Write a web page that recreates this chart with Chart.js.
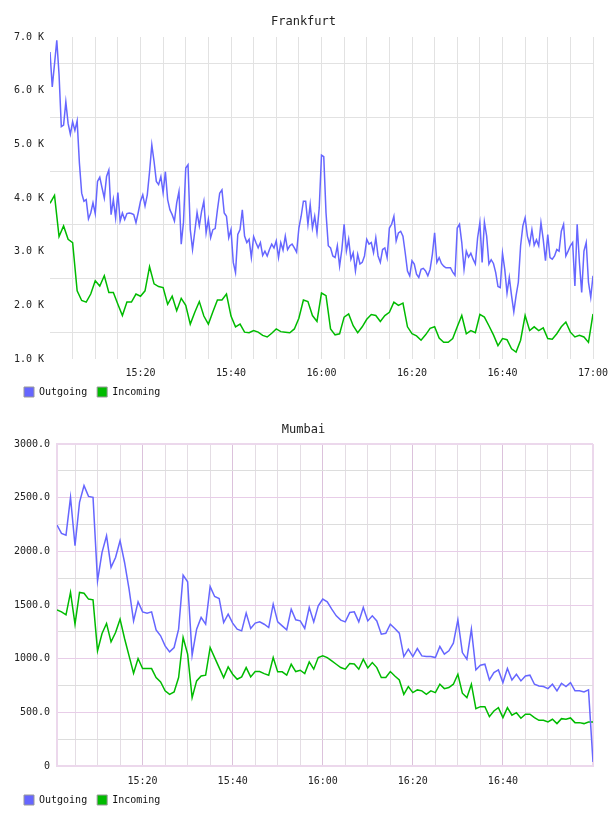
<!DOCTYPE html>
<html>
<head>
<meta charset="utf-8">
<script src="https://cdn.jsdelivr.net/npm/chart.js@4.4.0/dist/chart.umd.min.js"></script>
<style>
  body { margin: 0; background: #fff; }
  .box { position: relative; width: 608px; height: 408px; }
</style>
</head>
<body>
<div class="box"><canvas id="frankfurt"></canvas></div>
<div class="box"><canvas id="mumbai"></canvas></div>
<script>
// times are minutes after 15:00

// Frankfurt outgoing: one sample every 30 s from 15:00
const ffOutgoing = [
  6720, 6070, 6500, 6940, 6300, 5330, 5360, 5790, 5390, 5190,
  5420, 5260, 5440, 4650, 4090, 3940, 3970, 3610, 3720, 3910,
  3710, 4310, 4390, 4190, 4000, 4400, 4520, 3690, 3970, 3630,
  4100, 3570, 3720, 3600, 3710, 3720, 3710, 3690, 3540, 3730,
  3940, 4060, 3850, 4060, 4490, 4990, 4680, 4310, 4250, 4400,
  4100, 4490, 3970, 3780, 3690, 3570, 3910, 4120, 3140, 3550,
  4560, 4620, 3410, 3040, 3380, 3730, 3480, 3750, 3940, 3350,
  3600, 3260, 3410, 3430, 3780, 4090, 4150, 3720, 3660, 3260,
  3410, 2800, 2610, 3320, 3410, 3780, 3290, 3170, 3230, 2890,
  3280, 3170, 3070, 3170, 2930, 3010, 2920, 3040, 3140, 3070,
  3200, 2890, 3170, 3030, 3290, 3040, 3110, 3140, 3070, 2990,
  3440, 3660, 3940, 3940, 3510, 3880, 3440, 3660, 3350, 3820,
  4800, 4770, 3720, 3110, 3070, 2920, 2890, 3110, 2730, 3040,
  3510, 3010, 3230, 2860, 2980, 2640, 2950, 2770, 2800, 2920,
  3230, 3140, 3170, 2980, 3260, 2920, 2800, 3040, 3070, 2890,
  3440, 3510, 3660, 3200, 3350, 3380, 3290, 2980, 2640, 2550,
  2830, 2770, 2580, 2520, 2670, 2690, 2640, 2550, 2670, 2950,
  3350, 2800, 2890, 2780, 2730, 2700, 2700, 2700, 2620, 2560,
  3440, 3510, 3170, 2670, 3010, 2900, 2970, 2860, 2770, 3260,
  3540, 2800, 3550, 3290, 2770, 2850, 2780, 2610, 2350, 2330,
  2970, 2670, 2230, 2520, 2180, 1880, 2180, 2430, 3110, 3480,
  3630, 3290, 3140, 3410, 3120, 3220, 3110, 3540, 3230, 2830,
  3320, 2890, 2860, 2920, 3040, 3010, 3380, 3510, 2920, 3010,
  3110, 3170, 2360, 3510, 2800, 2240, 3010, 3170, 2430, 2150,
  2550
]

// Frankfurt incoming: one sample per minute from 15:00
const ffIncoming = [
  3900, 4050, 3280, 3480, 3230, 3170, 2270, 2090, 2060, 2210,
  2460, 2360, 2550, 2240, 2240, 2020, 1810, 2060, 2060, 2210,
  2170, 2270, 2720, 2400, 2350, 2330, 2020, 2170, 1900, 2130,
  2000, 1650, 1870, 2070, 1800, 1650, 1880, 2100, 2100, 2210,
  1800, 1600, 1650, 1500, 1490, 1530, 1500, 1440, 1410, 1480,
  1560, 1510, 1500, 1490, 1560, 1760, 2100, 2070, 1810, 1700,
  2230, 2180, 1560, 1450, 1470, 1780, 1840, 1620, 1490, 1600,
  1740, 1830, 1810, 1700, 1810, 1870, 2060, 2000, 2040, 1600,
  1470, 1430, 1350, 1450, 1570, 1600, 1390, 1310, 1310, 1380,
  1600, 1810, 1470, 1530, 1490, 1830, 1780, 1620, 1450, 1250,
  1380, 1360, 1190, 1130, 1350, 1810, 1530, 1600, 1530, 1580,
  1380, 1370, 1470, 1600, 1690, 1500, 1410, 1440, 1410, 1310,
  1840
]

// Mumbai: one sample per minute from 15:01
const mumOutgoing = [
  2245, 2167, 2151, 2503, 2052, 2456, 2612, 2512, 2503, 1725,
  1990, 2145, 1850, 1943, 2099, 1896, 1648, 1352, 1530, 1436,
  1424, 1436, 1268, 1213, 1119, 1063, 1104, 1275, 1778, 1716,
  1032, 1275, 1384, 1321, 1673, 1579, 1561, 1337, 1415, 1331,
  1275, 1259, 1424, 1281, 1331, 1343, 1321, 1290, 1508, 1343,
  1306, 1268, 1461, 1362, 1352, 1281, 1477, 1343, 1492, 1555,
  1530, 1461, 1399, 1359, 1343, 1430, 1436, 1343, 1477, 1352,
  1399, 1352, 1228, 1237, 1321, 1281, 1237, 1020, 1088, 1020,
  1094, 1026, 1020, 1020, 1010, 1113, 1042, 1073, 1144, 1362,
  1057, 995, 1275, 895, 939, 948, 802, 871, 895, 777,
  908, 802, 855, 793, 839, 846, 762, 746, 740, 721,
  762, 700, 771, 740, 777, 700, 700, 690, 709, 37
]

const mumIncoming = [
  1455, 1436, 1408, 1617, 1321, 1617, 1610, 1555, 1548, 1073,
  1234, 1328, 1157, 1244, 1368, 1188, 1026, 864, 1001, 908,
  908, 908, 824, 783, 700, 668, 690, 824, 1197, 1042,
  637, 793, 839, 846, 1104, 1010, 917, 824, 923, 855,
  808, 830, 917, 830, 880, 880, 861, 846, 1010, 877,
  877, 846, 948, 880, 892, 861, 970, 902, 1010, 1026,
  1010, 979, 948, 917, 902, 954, 951, 902, 995, 914,
  964, 917, 824, 824, 880, 839, 802, 668, 740, 684,
  709, 700, 668, 700, 684, 762, 721, 731, 762, 855,
  678, 637, 762, 535, 553, 553, 460, 513, 544, 451,
  544, 473, 497, 445, 482, 482, 451, 426, 426, 410,
  435, 395, 441, 435, 448, 404, 404, 395, 410, 410
]

const seriesNames = ['Outgoing', 'Incoming']
const seriesColors = ['#6666ff', '#00bb00']

const mono = 'DejaVu Sans Mono'
const tickFont = { family: mono, size: 10 }
const none = 'rgba(0,0,0,0)'

function clock(m) {
  const h = 15 + Math.floor(m / 60)
  const mm = m % 60
  return h + ':' + (mm < 10 ? '0' : '') + mm
}

function points(values, start, step) {
  return values.map((v, i) => ({ x: start + i * step, y: v }))
}

function dataset(i, values, start, step) {
  return {
    label: seriesNames[i],
    data: points(values, start, step),
    borderColor: seriesColors[i],
    backgroundColor: seriesColors[i],
    borderWidth: 1.5,
    pointRadius: 0,
    tension: 0,
    fill: false
  }
}

function baseOptions(title, titleBottom) {
  return {
    responsive: true,
    maintainAspectRatio: false,
    animation: false,
    layout: { padding: { left: 14, right: 15, top: 0, bottom: 1 } },
    plugins: {
      title: {
        display: true,
        text: title,
        color: '#222',
        font: { family: mono, size: 12, weight: 'normal' },
        padding: { top: 15, bottom: titleBottom }
      },
      legend: {
        position: 'bottom',
        align: 'start',
        labels: {
          boxWidth: 10,
          boxHeight: 10,
          padding: 10,
          color: '#111',
          font: tickFont,
          generateLabels: chart =>
            Chart.defaults.plugins.legend.labels.generateLabels(chart)
              .map(l => Object.assign(l, { strokeStyle: '#999', lineWidth: 1 }))
        }
      },
      tooltip: { enabled: false }
    }
  }
}

// Graph 1
const ffOptions = baseOptions('Frankfurt', 7.6)
ffOptions.scales = {
  x: {
    type: 'linear',
    min: 0,
    max: 120,
    border: { display: false },
    grid: {
      drawTicks: false,
      color: c => (c.tick.value > 0 && c.tick.value % 5 === 0) ? '#e2e2e2' : none
    },
    ticks: {
      stepSize: 5,
      autoSkip: false,
      maxRotation: 0,
      padding: 8,
      color: '#222',
      font: tickFont,
      callback: v => (v > 0 && v % 20 === 0) ? clock(v) : ''
    },
    afterFit: s => { s.height = 18; s.paddingRight = 0; s.paddingLeft = 0 }
  },
  y: {
    min: 1000,
    max: 7000,
    border: { display: false },
    grid: {
      drawTicks: false,
      color: c => (c.tick.value % 1000 === 500) ? '#e2e2e2' : none
    },
    ticks: {
      stepSize: 500,
      autoSkip: false,
      padding: 6,
      color: '#222',
      font: tickFont,
      callback: v => (v % 1000 === 0) ? (v / 1000).toFixed(1) + ' K' : ''
    },
    afterFit: s => { s.width = 36 }
  }
}

new Chart(document.getElementById('frankfurt'), {
  type: 'line',
  data: {
    datasets: [
      dataset(0, ffOutgoing, 0, 0.5),
      dataset(1, ffIncoming, 0, 1)
    ]
  },
  options: ffOptions
})

// Graph 2
const frame = '#ecd8ec'
const mumOptions = baseOptions('Mumbai', 6.6)
mumOptions.scales = {
  x: {
    type: 'linear',
    min: 1,
    max: 120,
    border: { display: true, color: frame, width: 2 },
    grid: {
      drawTicks: false,
      color: c => {
        const v = c.tick.value
        if (v === 120) return frame
        if (v % 20 === 0) return '#dcc2dc'
        if (v % 5 === 0) return '#e4dde4'
        return none
      },
      lineWidth: c => c.tick.value === 120 ? 2 : 1
    },
    ticks: {
      stepSize: 5,
      autoSkip: false,
      maxRotation: 0,
      padding: 9,
      color: '#222',
      font: tickFont,
      callback: v => (v % 20 === 0 && v < 120) ? clock(v) : ''
    },
    afterFit: s => { s.height = 19; s.paddingRight = 0; s.paddingLeft = 0 }
  },
  y: {
    min: 0,
    max: 3000,
    border: { display: true, color: frame, width: 2 },
    grid: {
      drawTicks: false,
      color: c => {
        const v = c.tick.value
        if (v === 3000) return frame
        return v % 500 === 0 ? '#e8cde8' : '#dddddd'
      },
      lineWidth: c => c.tick.value === 3000 ? 2 : 1
    },
    ticks: {
      stepSize: 250,
      autoSkip: false,
      padding: 7,
      color: '#222',
      font: tickFont,
      callback: v => (v % 500 !== 0) ? '' : (v === 0 ? '0' : v.toFixed(1))
    },
    afterFit: s => { s.width = 43 }
  }
}

new Chart(document.getElementById('mumbai'), {
  type: 'line',
  data: {
    datasets: [
      dataset(0, mumOutgoing, 1, 1),
      dataset(1, mumIncoming, 1, 1)
    ]
  },
  options: mumOptions
})
</script>
</body>
</html>
